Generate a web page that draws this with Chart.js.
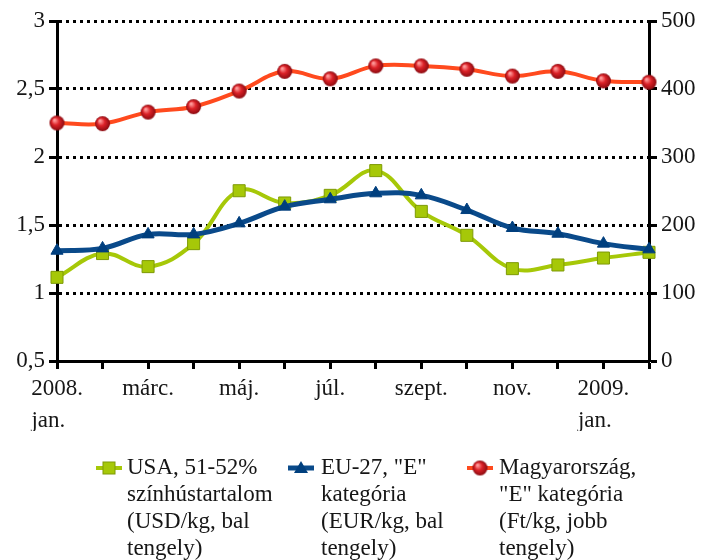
<!DOCTYPE html>
<html><head><meta charset="utf-8">
<script src="https://cdn.jsdelivr.net/npm/chart.js@4.4.0/dist/chart.umd.min.js"></script>
<style>html,body{margin:0;padding:0;background:#fff;}#wrap{width:705px;height:560px;}</style>
</head><body><div id="wrap"><canvas id="c" width="705" height="560"></canvas></div>
<script>
// ---- data ----
const categories = [["2008.","jan.   "],"febr.","márc.","ápr.","máj.","jún.","júl.","aug.","szept.","okt.","nov.","dec.",["2009.","jan.   "],"febr."];
const usaValues = [1.115,1.29,1.194,1.363,1.752,1.662,1.718,1.90,1.60,1.424,1.179,1.206,1.257,1.299];
const euValues  = [1.311,1.328,1.431,1.431,1.512,1.635,1.689,1.733,1.718,1.61,1.478,1.436,1.363,1.321];
const huValues  = [350,349,366,374,397,426,415,434,434,429,419,426,412,410];
const leftAxis  = {min:0.5, max:3, step:0.5};
const rightAxis = {min:0, max:500, step:100};
const legendUSA = ["USA, 51-52%","színhústartalom","(USD/kg, bal","tengely)"];
const legendEU  = ["EU-27, \"E\"","kategória","(EUR/kg, bal","tengely)"];
const legendHU  = ["Magyarország,","\"E\" kategória","(Ft/kg, jobb","tengely)"];

const FONT = '"Liberation Serif","DejaVu Serif",serif';
const FS = 23;
const TXT = '#161616';
const GREEN = '#A6C808', GREEN_B = '#7E9A06';
const BLUE = '#0A4A8A', BLUE_M = '#003F7E';
const RED = '#FF4A1E';

function sphere(r){
  const c=document.createElement('canvas'); const s=2*r+2; c.width=c.height=s;
  const g=c.getContext('2d'); const cx=s/2;
  const grad=g.createRadialGradient(cx-r*0.35,cx-r*0.4,r*0.1,cx,cx,r);
  grad.addColorStop(0,'#ff9c9c'); grad.addColorStop(0.45,'#dc2228'); grad.addColorStop(1,'#8a0a10');
  g.fillStyle=grad; g.beginPath(); g.arc(cx,cx,r,0,Math.PI*2); g.fill();
  return c;
}
const redBall = sphere(7.5);

const legendPlugin = {
  id:'customLegend',
  afterDraw(chart){
    const ctx = chart.ctx;
    const items = [
      {x:96, tx:127, lines:legendUSA, color:GREEN, w:4, style:'rect'},
      {x:288, tx:321, lines:legendEU, color:BLUE, w:5, style:'tri'},
      {x:467, tx:499, lines:legendHU, color:RED, w:4, style:'ball'}
    ];
    const y0 = 468, lh = 27;
    ctx.save();
    items.forEach(it=>{
      const mx = it.x + 13;
      ctx.strokeStyle = it.color; ctx.lineWidth = it.w;
      ctx.beginPath(); ctx.moveTo(it.x, y0); ctx.lineTo(it.x+26, y0); ctx.stroke();
      if(it.style==='rect'){
        ctx.fillStyle=GREEN; ctx.strokeStyle=GREEN_B; ctx.lineWidth=1;
        ctx.fillRect(mx-6,y0-6,12,12); ctx.strokeRect(mx-6,y0-6,12,12);
      } else if(it.style==='tri'){
        ctx.fillStyle=BLUE_M; ctx.beginPath();
        ctx.moveTo(mx,y0-7); ctx.lineTo(mx+7,y0+5); ctx.lineTo(mx-7,y0+5); ctx.closePath(); ctx.fill();
      } else {
        ctx.drawImage(redBall, mx-8.5, y0-8.5);
      }
      ctx.fillStyle = TXT; ctx.font = FS+'px '+FONT; ctx.textBaseline='middle'; ctx.textAlign='left';
      it.lines.forEach((l,i)=>ctx.fillText(l, it.tx, y0 + i*lh));
    });
    ctx.restore();
  }
};

new Chart(document.getElementById('c'), {
  type:'line',
  data:{
    labels: categories,
    datasets:[
      {label:legendUSA.join(' '), data:usaValues, yAxisID:'y', borderColor:GREEN, borderWidth:4,
       pointStyle:'rect', pointRadius:8.5, pointBackgroundColor:GREEN, pointBorderColor:GREEN_B, pointBorderWidth:1,
       tension:0.4, order:1},
      {label:legendEU.join(' '), data:euValues, yAxisID:'y', borderColor:BLUE, borderWidth:5,
       pointStyle:'triangle', pointRadius:7, pointBackgroundColor:BLUE_M, pointBorderColor:BLUE_M, pointBorderWidth:1,
       tension:0.4, order:0},
      {label:legendHU.join(' '), data:huValues, yAxisID:'y1', borderColor:RED, borderWidth:4,
       pointStyle:redBall, pointRadius:7.5,
       tension:0.4, order:2}
    ]
  },
  options:{
    responsive:false, animation:false, devicePixelRatio:1,
    layout:{padding:{top:21,bottom:129,left:0,right:0}},
    plugins:{legend:{display:false}, tooltip:{enabled:false}},
    scales:{
      x:{
        offset:false,
        grid:{display:true, drawOnChartArea:false, drawTicks:true, tickLength:8, tickWidth:3, tickColor:'#000'},
        border:{display:true, color:'#000', width:3},
        ticks:{autoSkip:false, maxRotation:0, minRotation:0, padding:4, color:TXT,
               font:{family:FONT, size:FS, lineHeight:1.4},
               callback:(v,i)=> i%2===0 ? categories[i] : ''},
        afterFit:s=>{s.height=70;}
      },
      y:{
        position:'left', min:leftAxis.min, max:leftAxis.max,
        ticks:{stepSize:leftAxis.step, padding:4, color:TXT, font:{family:FONT,size:FS},
               callback:v=>String(v).replace('.',',')},
        grid:{drawOnChartArea:true, color:'#000', lineWidth:3, drawTicks:true, tickLength:8, tickWidth:3, tickColor:'#000', tickBorderDash:[]},
        border:{display:true, color:'#000', width:3, dash:[3,4]},
        afterFit:s=>{s.width=57;}
      },
      y1:{
        position:'right', min:rightAxis.min, max:rightAxis.max,
        ticks:{stepSize:rightAxis.step, padding:4, color:TXT, font:{family:FONT,size:FS}},
        grid:{drawOnChartArea:false, drawTicks:true, tickLength:8, tickWidth:3, tickColor:'#000'},
        border:{display:true, color:'#000', width:3},
        afterFit:s=>{s.width=56;}
      }
    }
  },
  plugins:[legendPlugin]
});
</script>
</body></html>
